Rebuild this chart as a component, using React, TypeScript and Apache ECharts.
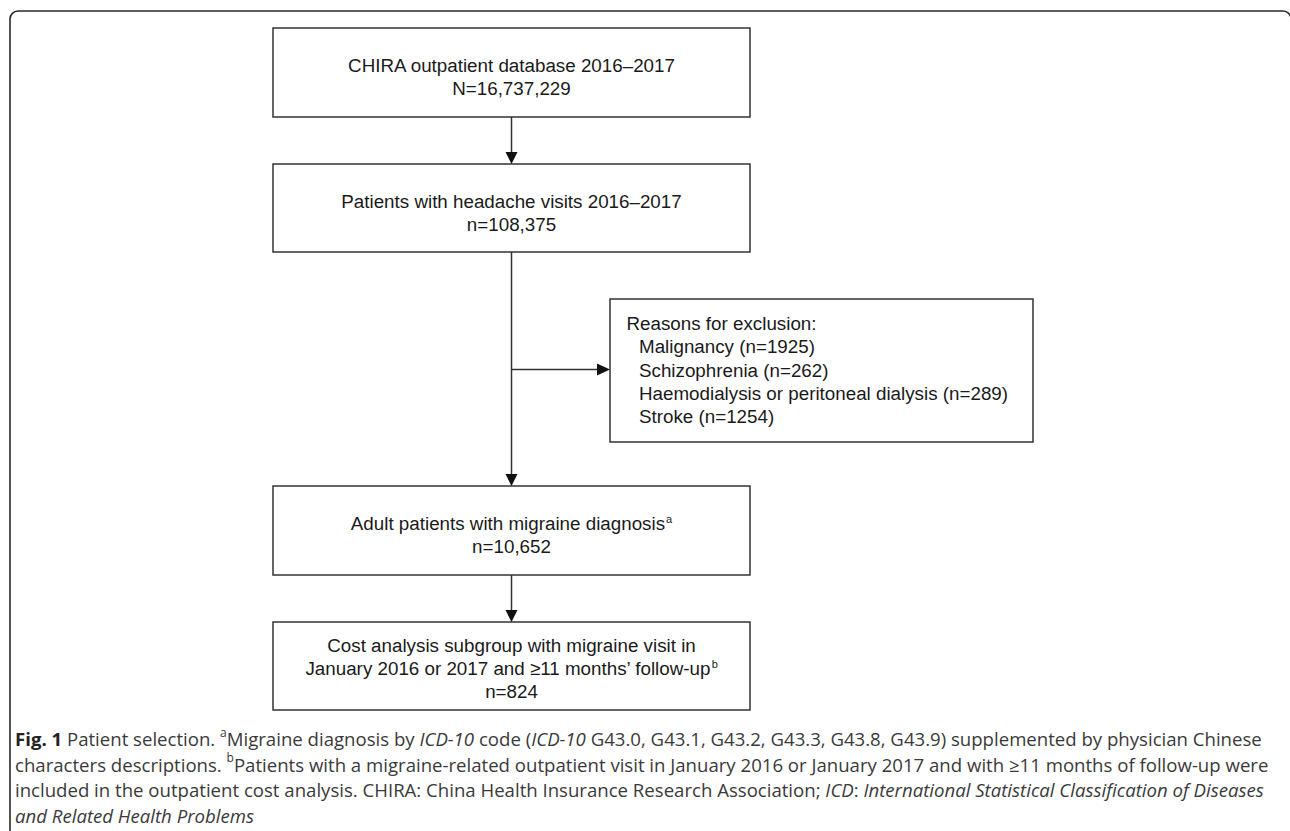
import React, { useEffect, useRef } from "react";
import * as echarts from "echarts";

// ---- Flowchart content ----
const flowTitles = [
  "CHIRA outpatient database 2016–2017",
  "Patients with headache visits 2016–2017",
  "Adult patients with migraine diagnosis",
  "Cost analysis subgroup with migraine visit in",
];
const flowTitleExtra = ["", "", "", "January 2016 or 2017 and ≥11 months’ follow-up"];
const flowSuperscripts = ["", "", "a", "b"];
const flowCounts = ["N=16,737,229", "n=108,375", "n=10,652", "n=824"];

const exclusionHeader = "Reasons for exclusion:";
const exclusionReasons = [
  "Malignancy",
  "Schizophrenia",
  "Haemodialysis or peritoneal dialysis",
  "Stroke",
];
const exclusionCounts = [1925, 262, 289, 1254];

const captionLines = [
  "{b|Fig. 1}{n| Patient selection. }{sup|a}{n|Migraine diagnosis by }{i|ICD-10}{n| code (}{i|ICD-10}{n| G43.0, G43.1, G43.2, G43.3, G43.8, G43.9) supplemented by physician Chinese}",
  "{n|characters descriptions. }{sup|b}{n|Patients with a migraine-related outpatient visit in January 2016 or January 2017 and with ≥11 months of follow-up were}",
  "{n|included in the outpatient cost analysis. CHIRA: China Health Insurance Research Association; }{i|ICD}{n|: }{i|International Statistical Classification of Diseases}",
  "{i|and Related Health Problems}",
];

// ---- Layout ----
const BOX_FONT = "'Liberation Sans', Arial, sans-serif";
const CAP_FONT = "'Open Sans', sans-serif";
const LINE = "#333";
const TEXT = "#1a1a1a";
const CAP_TEXT = "#3a3a3a";
const BOX_FS = 18.8;
const CAP_FS = 18.6;

const mainX = 273;
const mainW = 477;
const mainCx = mainX + mainW / 2;
const boxTops = [28, 164, 486, 622];
const boxHeights = [89, 88, 89, 88];
const excl = { x: 610, y: 299, w: 423, h: 143 };

function boxRich() {
  return {
    n: { fontSize: BOX_FS, fontFamily: BOX_FONT, fill: TEXT, lineHeight: 22 },
    sup: { fontSize: 11, fontFamily: BOX_FONT, fill: TEXT, lineHeight: 22, verticalAlign: "top", padding: [1, 0, 0, 1] },
  };
}

function textEl(x: number, y: number, text: string, align: string, rich?: any, extra?: any) {
  return {
    type: "text",
    x,
    y,
    silent: true,
    style: {
      text,
      fill: TEXT,
      fontSize: BOX_FS,
      fontFamily: BOX_FONT,
      align,
      textAlign: align,
      verticalAlign: "middle",
      textVerticalAlign: "middle",
      rich,
      ...(extra || {}),
    },
  };
}

function vArrow(x: number, y1: number, y2: number) {
  return [
    { type: "line", silent: true, shape: { x1: x, y1, x2: x, y2: y2 - 10 }, style: { stroke: LINE, lineWidth: 1.5 } },
    {
      type: "polygon",
      silent: true,
      shape: { points: [[x - 6, y2 - 12], [x + 6, y2 - 12], [x, y2]] },
      style: { fill: "#111" },
    },
  ];
}

function buildElements() {
  const els: any[] = [];
  // outer frame
  els.push({
    type: "rect",
    silent: true,
    shape: { x: 10, y: 11, width: 1281, height: 900, r: 8 },
    style: { fill: "none", stroke: "#2a2a2a", lineWidth: 1.6 },
  });
  // main boxes
  flowTitles.forEach((t, i) => {
    const top = boxTops[i];
    els.push({
      type: "rect",
      silent: true,
      shape: { x: mainX, y: top, width: mainW, height: boxHeights[i] },
      style: { fill: "#fff", stroke: LINE, lineWidth: 1.5 },
    });
    const lines: string[] = [];
    if (flowTitleExtra[i]) {
      lines.push(`{n|${t}}`);
      lines.push(`{n|${flowTitleExtra[i]}}` + (flowSuperscripts[i] ? `{sup|${flowSuperscripts[i]}}` : ""));
    } else {
      lines.push(`{n|${t}}` + (flowSuperscripts[i] ? `{sup|${flowSuperscripts[i]}}` : ""));
    }
    lines.push(`{n|${flowCounts[i]}}`);
    const startY = lines.length === 3 ? top + 23 : top + 37.5;
    lines.forEach((ln, j) => {
      els.push(textEl(mainCx, startY + j * 23, ln, "center", boxRich()));
    });
  });
  // arrows
  els.push(...vArrow(mainCx, boxTops[0] + boxHeights[0], boxTops[1]));
  els.push(...vArrow(mainCx, boxTops[1] + boxHeights[1], boxTops[2]));
  els.push(...vArrow(mainCx, boxTops[2] + boxHeights[2], boxTops[3]));
  // exclusion branch
  const ay = 369.5;
  els.push({ type: "line", silent: true, shape: { x1: mainCx, y1: ay, x2: excl.x - 10, y2: ay }, style: { stroke: LINE, lineWidth: 1.5 } });
  els.push({
    type: "polygon",
    silent: true,
    shape: { points: [[excl.x - 13, ay - 6], [excl.x - 13, ay + 6], [excl.x, ay]] },
    style: { fill: "#111" },
  });
  els.push({
    type: "rect",
    silent: true,
    shape: { x: excl.x, y: excl.y, width: excl.w, height: excl.h },
    style: { fill: "#fff", stroke: LINE, lineWidth: 1.5 },
  });
  els.push(textEl(626.5, 323.5, exclusionHeader, "left"));
  exclusionReasons.forEach((r, i) => {
    els.push(textEl(639, 346.8 + i * 23.2, `${r} (n=${exclusionCounts[i]})`, "left"));
  });
  // caption
  const capRich = {
    n: { fontSize: CAP_FS, fontFamily: CAP_FONT, fill: CAP_TEXT, lineHeight: 25 },
    b: { fontSize: CAP_FS, fontFamily: CAP_FONT, fontWeight: "bold", fill: "#222", lineHeight: 25 },
    i: { fontSize: CAP_FS, fontFamily: CAP_FONT, fontStyle: "italic", fill: CAP_TEXT, lineHeight: 25 },
    sup: { fontSize: 12, fontFamily: CAP_FONT, fill: CAP_TEXT, lineHeight: 25, verticalAlign: "top" },
  };
  captionLines.forEach((ln, i) => {
    els.push(textEl(15, 738.5 + i * 25.7, ln, "left", capRich));
  });
  return els;
}

export default function App() {
  const ref = useRef<HTMLDivElement>(null);
  useEffect(() => {
    if (!ref.current) return;
    const chart = echarts.init(ref.current, null, { renderer: "svg" });
    chart.setOption({
      animation: false,
      backgroundColor: "#fff",
      graphic: { elements: buildElements() },
    });
    return () => chart.dispose();
  }, []);
  return (
    <div
      ref={ref}
      style={{ position: "fixed", left: 0, top: 0, width: 1290, height: 831, background: "#fff" }}
    />
  );
}
